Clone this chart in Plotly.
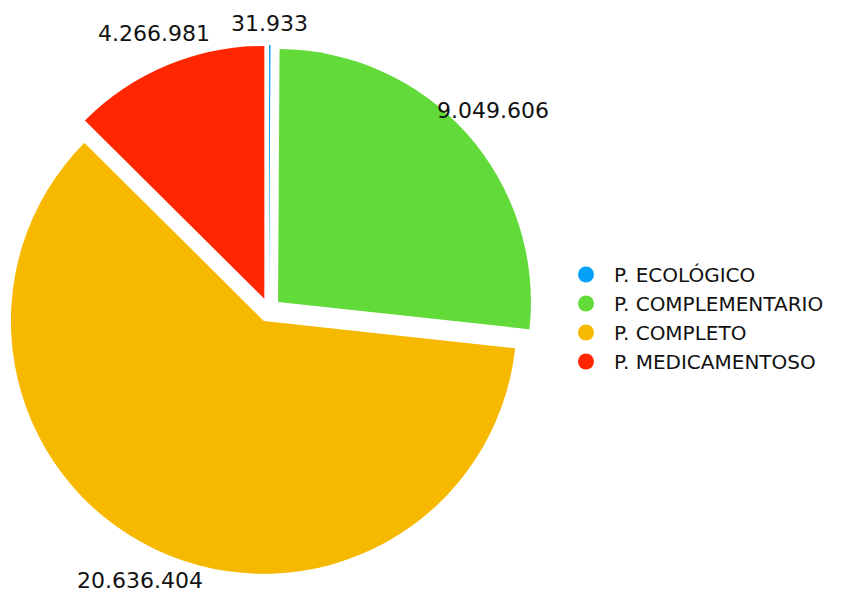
import math
import plotly.graph_objects as go

categories = ["P. ECOLÓGICO", "P. COMPLEMENTARIO", "P. COMPLETO", "P. MEDICAMENTOSO"]
values = [31933, 9049606, 20636404, 4266981]
colors = ["#03A1F7", "#62DA3A", "#F7B900", "#FF2600"]

FONT = "DejaVu Sans"
W, H = 867, 594
PULL = 0.048
# pie domain in pixels
CX, CY, HALF = 269, 310, 265
X0, X1, Y0, Y1 = CX - HALF, CX + HALF, CY - HALF, CY + HALF
LABEL_R = 300
MIN_LABEL_Y = 23.5

fig = go.Figure()
fig.add_trace(go.Pie(
    labels=categories, values=values, sort=False, direction="clockwise", rotation=0,
    marker=dict(colors=colors, line=dict(width=0)),
    pull=[PULL] * len(values),
    textinfo="none", textposition="none",
    showlegend=False, hoverinfo="label+value",
    domain=dict(x=[X0 / W, X1 / W], y=[1 - Y1 / H, 1 - Y0 / H]),
))
for name, c in zip(categories, colors):
    fig.add_trace(go.Scatter(
        x=[None], y=[None], mode="markers", name=name,
        marker=dict(color=c, size=22, symbol="circle"),
        showlegend=True,
    ))

total = sum(values)
cum = 0
annotations = []
for v in values:
    mid = (cum + v / 2) / total * 2 * math.pi
    cum += v
    px = CX + LABEL_R * math.sin(mid)
    py = max(CY - LABEL_R * math.cos(mid), MIN_LABEL_Y)
    annotations.append(dict(
        x=px / W, y=1 - py / H, xref="paper", yref="paper",
        text=f"{v:,}".replace(",", "."), showarrow=False,
        xanchor="center", yanchor="middle",
        font=dict(family=FONT, size=22, color="#111"),
    ))

fig.update_layout(
    width=W, height=H, separators=",.",
    margin=dict(l=0, r=0, t=0, b=0),
    paper_bgcolor="white", plot_bgcolor="white",
    xaxis=dict(visible=False), yaxis=dict(visible=False),
    legend=dict(x=558 / W, y=1 - 318 / H, xanchor="left", yanchor="middle",
                font=dict(family=FONT, size=20, color="#111"),
                itemsizing="trace", itemwidth=46, tracegroupgap=0),
    annotations=annotations,
    font=dict(family=FONT),
)
fig.write_html("out.html", config={"displayModeBar": False},
               post_script="document.body.style.margin='0';")
